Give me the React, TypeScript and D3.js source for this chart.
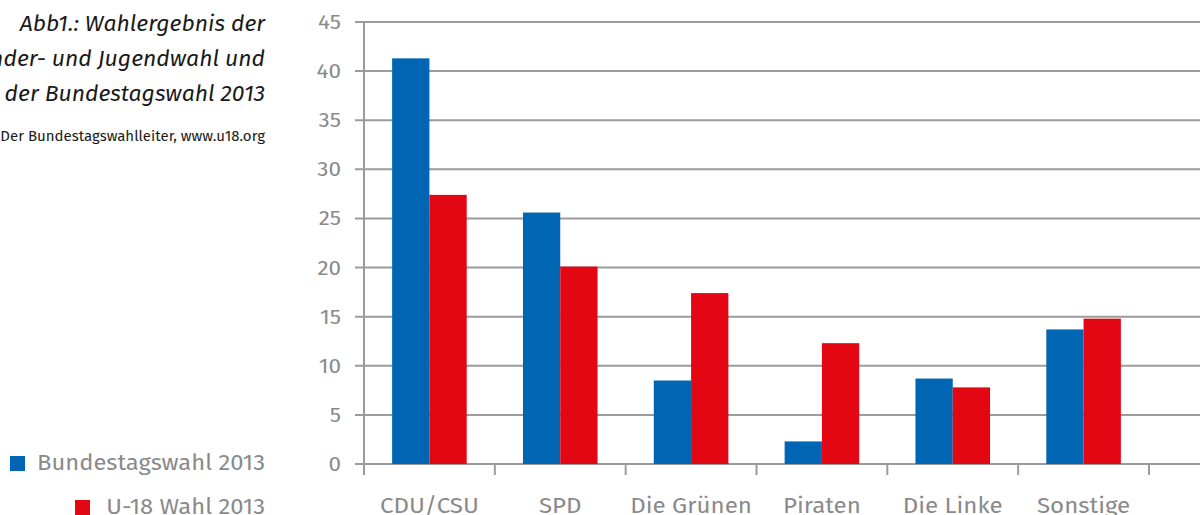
import React from "react";
import * as d3 from "d3";

const categories = ["CDU/CSU", "SPD", "Die Grünen", "Piraten", "Die Linke", "Sonstige"];
const seriesNames = ["Bundestagswahl 2013", "U-18 Wahl 2013"];
const bundestag = [41.3, 25.6, 8.5, 2.3, 8.7, 13.7];
const u18 = [27.4, 20.1, 17.4, 12.3, 7.8, 14.8];
const yTicks = [0, 5, 10, 15, 20, 25, 30, 35, 40, 45];
const titleLines = ["Abb1.: Wahlergebnis der", "Kinder- und Jugendwahl und", "der Bundestagswahl 2013"];
const sourceText = "Quellen: Der Bundestagswahlleiter, www.u18.org";

const colors = ["#0066b3", "#e30613"];
const FONT = "'Fira Sans', 'Noto Sans', 'Open Sans', sans-serif";

function T(props: { x: number; y: number; sx: number; size: number; anchor: string; fill: string; italic?: boolean; children: React.ReactNode }) {
  const { x, y, sx, size, anchor, fill, italic, children } = props;
  return (
    <text transform={`translate(${x},${y}) scale(${sx},1)`} textAnchor={anchor} fontSize={size} fill={fill} fontFamily={FONT} fontStyle={italic ? "italic" : "normal"}>
      {children}
    </text>
  );
}

export default function App() {
  const W = 1200, H = 515;
  const x0 = 364, x1 = 1149, y0 = 464, y1 = 22;
  const x = d3.scaleBand<string>().domain(categories).range([x0, x1]).paddingInner(0.43).paddingOuter(0.215);
  const y = d3.scaleLinear().domain([0, 45]).range([y0, y1]);
  const xs = d3.scaleBand<string>().domain(seriesNames).range([0, x.bandwidth()]);
  const step = (x1 - x0) / categories.length;
  const series = [bundestag, u18];
  return (
    <svg width={W} height={H} style={{ position: "absolute", left: 0, top: 0, background: "#fff" }}>
      {titleLines.map((t, i) => (
        <T key={i} x={265} y={31 + i * 35} sx={1.02} size={22.5} anchor="end" fill="#1a1a1a" italic>{t}</T>
      ))}
      <T x={265} y={141} sx={1.035} size={14.5} anchor="end" fill="#1a1a1a">{sourceText}</T>
      {yTicks.map((t) => (
        <g key={t}>
          <line x1={355} x2={W} y1={y(t)} y2={y(t)} stroke="#9b9b9b" strokeWidth={2} />
          <T x={341} y={y(t) + 7} sx={1.15} size={19.5} anchor="end" fill="#8a8a8a">{t}</T>
        </g>
      ))}
      <line x1={x0} x2={x0} y1={y1} y2={y0 + 11} stroke="#9b9b9b" strokeWidth={2} />
      {d3.range(categories.length + 1).map((i) => (
        <line key={i} x1={x0 + i * step} x2={x0 + i * step} y1={y0} y2={y0 + 11} stroke="#9b9b9b" strokeWidth={2} />
      ))}
      {categories.map((c, ci) =>
        series.map((s, si) => (
          <rect key={c + si} x={(x(c) as number) + (xs(seriesNames[si]) as number)} y={y(s[ci])} width={xs.bandwidth()} height={y(0) - y(s[ci])} fill={colors[si]} />
        ))
      )}
      {categories.map((c) => (
        <T key={c} x={(x(c) as number) + x.bandwidth() / 2} y={513} sx={1.07} size={22.5} anchor="middle" fill="#8a8a8a">{c}</T>
      ))}
      <rect x={10} y={456} width={15} height={15} fill={colors[0]} />
      <T x={265} y={470} sx={1.07} size={22.2} anchor="end" fill="#8a8a8a">{seriesNames[0]}</T>
      <rect x={75} y={500} width={15} height={15} fill={colors[1]} />
      <T x={265} y={514} sx={1.07} size={22.2} anchor="end" fill="#8a8a8a">{seriesNames[1]}</T>
    </svg>
  );
}
